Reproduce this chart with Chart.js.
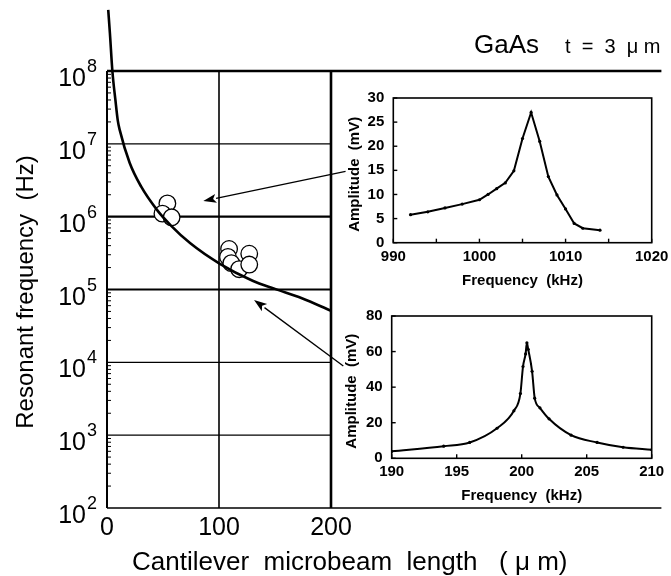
<!DOCTYPE html>
<html><head><meta charset="utf-8">
<script src="https://cdn.jsdelivr.net/npm/chart.js@4.4.0/dist/chart.umd.min.js"></script>
<style>
html,body{margin:0;padding:0;background:#fff;}
#wrap{position:relative;width:671px;height:576px;overflow:hidden;background:#fff;}
canvas{position:absolute;}
</style></head><body>
<div id="wrap">
<canvas id="main" width="671" height="576" style="left:0;top:0"></canvas>
<canvas id="ins1" width="345" height="215" style="left:340px;top:80px"></canvas>
<canvas id="ins2" width="345" height="215" style="left:340px;top:298px"></canvas>
</div>
<script>
// ---------- main chart data ----------
const curveLength = [1.1, 2.6, 4.8, 7.5, 9.6, 11.4, 20.2, 30.4, 44.8, 56.9, 74.4, 100.8, 130, 150, 174, 200];
const curveFreq   = [6.9e8, 3.3e8, 1.0e8, 4.0e7, 2.1e7, 1.54e7, 5.5e6, 2.6e6, 1.23e6, 7.6e5, 4.3e5, 2.25e5, 1.32e5, 1.02e5, 7.6e4, 5.1e4];
const measLength  = [53.9, 49.5, 57.7, 109, 127, 108, 111, 118, 127];
const measFreq    = [1.52e6, 1.1e6, 9.8e5, 3.6e5, 3.1e5, 2.8e5, 2.3e5, 1.9e5, 2.2e5];
const yDecades    = [2, 3, 4, 5, 6, 7, 8];
const xTickValues = [0, 100, 200];
// ---------- inset data ----------
const ins1Freq = [992, 994, 996, 998, 1000, 1001, 1002, 1003, 1004, 1005, 1006, 1007, 1008, 1009, 1010, 1011, 1012, 1014];
const ins1Amp  = [5.8, 6.4, 7.2, 8.0, 8.9, 10.0, 11.2, 12.4, 14.9, 21.6, 27.0, 21.0, 13.7, 9.9, 7.0, 4.0, 3.0, 2.6];
const ins2Freq = [190, 194, 196, 198.1, 199.4, 199.9, 200.1, 200.3, 200.4, 200.5, 200.8, 201, 201.4, 202.1, 203.8, 205.8, 207.8, 210];
const ins2Amp  = [3.9, 6.8, 8.9, 16.9, 26.7, 36.4, 51.6, 58.7, 64.9, 61.3, 48.9, 33.8, 28.4, 22.2, 13.0, 8.9, 6.2, 4.8];
// arrows (data coordinates of main chart)
const arrowTails = [[213, 4.2e6], [211, 8.9e3]];
const arrowTips  = [[86, 1.64e6], [131.3, 7.2e4]];

const FONT = '"Liberation Sans", Arial, Helvetica, sans-serif';

function seg(ctx, x1, y1, x2, y2, w) {
  ctx.lineWidth = w; ctx.beginPath(); ctx.moveTo(x1, y1); ctx.lineTo(x2, y2); ctx.stroke();
}

const mainDeco = {
  id: 'mainDeco',
  beforeDatasetsDraw(chart) {
    const {ctx, scales: {x, y}, chartArea: a} = chart;
    ctx.save();
    ctx.strokeStyle = '#000';
    const x0 = x.getPixelForValue(0), x1 = x.getPixelForValue(100), x2 = x.getPixelForValue(200);
    yDecades.forEach(d => {
      const py = y.getPixelForValue(Math.pow(10, d));
      if (d === 8) seg(ctx, x0, py, a.right, py, 2.5);
      else if (d === 2) seg(ctx, x0, py, a.right, py, 1.5);
      else seg(ctx, x0, py, x2, py, (d === 5 || d === 6) ? 2.2 : 1.3);
    });
    const yt = y.getPixelForValue(1e8), yb = y.getPixelForValue(1e2);
    seg(ctx, x0, yt, x0, yb, 2);
    seg(ctx, x1, yt, x1, yb, 1.6);
    seg(ctx, x2, yt, x2, yb, 2.6);
    for (let d = 2; d < 8; d++) {
      for (let k = 2; k <= 9; k++) {
        const py = y.getPixelForValue(k * Math.pow(10, d));
        seg(ctx, x0, py, x0 + 4, py, 1);
      }
    }
    ctx.restore();
  },
  afterDraw(chart) {
    const {ctx, scales: {x, y}} = chart;
    ctx.save();
    ctx.fillStyle = '#000'; ctx.strokeStyle = '#000';
    yDecades.forEach(d => {
      const py = y.getPixelForValue(Math.pow(10, d));
      ctx.font = '25px ' + FONT; ctx.textAlign = 'right'; ctx.textBaseline = 'alphabetic';
      ctx.fillText('10', 86, py + 15);
      ctx.font = '18px ' + FONT; ctx.textAlign = 'left';
      ctx.fillText(String(d), 87, py + 1);
    });
    ctx.font = '25px ' + FONT; ctx.textAlign = 'center';
    xTickValues.forEach(v => ctx.fillText(String(v), x.getPixelForValue(v), 535));
    ctx.font = '26px ' + FONT; ctx.textAlign = 'left';
    ctx.fillText('Cantilever  microbeam  length   ( \u03bc m)', 132, 570);
    ctx.save();
    ctx.translate(33, 292); ctx.rotate(-Math.PI / 2);
    ctx.font = '24px ' + FONT; ctx.textAlign = 'center';
    ctx.fillText('Resonant frequency  (Hz)', 0, 0);
    ctx.restore();
    ctx.font = '26px ' + FONT; ctx.textAlign = 'left';
    ctx.fillText('GaAs', 474, 53);
    ctx.font = '20px ' + FONT;
    ctx.fillText('t  =  3  \u03bc m', 565, 53);
    arrowTails.forEach((t, i) => {
      const tx = x.getPixelForValue(t[0]), ty = y.getPixelForValue(t[1]);
      const hx = x.getPixelForValue(arrowTips[i][0]), hy = y.getPixelForValue(arrowTips[i][1]);
      const ang = Math.atan2(hy - ty, hx - tx);
      const L = 13, W = 4.5;
      const bx = hx - L * Math.cos(ang), by = hy - L * Math.sin(ang);
      seg(ctx, tx, ty, bx, by, 1.3);
      ctx.beginPath();
      ctx.moveTo(hx, hy);
      ctx.lineTo(bx + W * Math.sin(ang), by - W * Math.cos(ang));
      ctx.lineTo(hx - (L - 3) * Math.cos(ang), hy - (L - 3) * Math.sin(ang));
      ctx.lineTo(bx - W * Math.sin(ang), by + W * Math.cos(ang));
      ctx.closePath(); ctx.fill();
    });
    ctx.restore();
  }
};

new Chart(document.getElementById('main'), {
  type: 'scatter',
  data: {
    datasets: [
      {
        data: curveLength.map((v, i) => ({x: v, y: curveFreq[i]})),
        showLine: true, borderColor: '#000', borderWidth: 2.6, pointRadius: 0,
        cubicInterpolationMode: 'monotone', clip: false
      },
      {
        data: measLength.map((v, i) => ({x: v, y: measFreq[i]})),
        showLine: false, pointRadius: 8.3, pointBackgroundColor: '#fff',
        pointBorderColor: '#000', pointBorderWidth: 1.3, clip: false
      }
    ]
  },
  options: {
    responsive: false, animation: false, devicePixelRatio: 1,
    layout: {padding: {top: 71, right: 0, bottom: 0, left: 0}},
    plugins: {legend: {display: false}, tooltip: {enabled: false}},
    scales: {
      x: {
        type: 'linear', min: 0, max: 495,
        grid: {display: false}, border: {display: false}, ticks: {display: false},
        afterFit: s => { s.height = 68; }
      },
      y: {
        type: 'logarithmic', min: 1e2, max: 1e8,
        grid: {display: false}, border: {display: false}, ticks: {display: false},
        afterFit: s => { s.width = 107; }
      }
    }
  },
  plugins: [mainDeco]
});

// ---------- insets ----------
function insetDeco(xMinorStep, yTitleDx) {
  return {
    id: 'insetDeco',
    afterDraw(chart) {
      const {ctx, scales: {x, y}, chartArea: a} = chart;
      ctx.save();
      ctx.strokeStyle = '#000'; ctx.fillStyle = '#000';
      ctx.lineWidth = 1.6;
      ctx.strokeRect(a.left, a.top, a.right - a.left, a.bottom - a.top);
      for (let v = x.min; v <= x.max + 1e-9; v += xMinorStep) {
        const px = x.getPixelForValue(v);
        seg(ctx, px, a.bottom, px, a.bottom - 4, 1.4);
      }
      y.ticks.forEach(t => {
        const py = y.getPixelForValue(t.value);
        seg(ctx, a.left, py, a.left + 4, py, 1.4);
      });
      ctx.font = 'bold 15px ' + FONT; ctx.textAlign = 'center'; ctx.textBaseline = 'middle';
      ctx.fillText('Frequency  (kHz)', (a.left + a.right) / 2, a.bottom + 38);
      ctx.save();
      ctx.translate(a.left - yTitleDx, (a.top + a.bottom) / 2 + 4);
      ctx.rotate(-Math.PI / 2);
      ctx.fillText('Amplitude  (mV)', 0, 0);
      ctx.restore();
      ctx.restore();
    }
  };
}

function makeInset(id, fx, fy, xmin, xmax, xstep, ymax, ystep, yw, xh, smooth, minor, ytdx) {
  new Chart(document.getElementById(id), {
    type: 'scatter',
    data: {datasets: [{
      data: fx.map((v, i) => ({x: v, y: fy[i]})),
      showLine: true, borderColor: '#000', borderWidth: 2,
      pointRadius: 1.6, pointBackgroundColor: '#000', pointBorderWidth: 0,
      cubicInterpolationMode: smooth ? 'monotone' : 'default', tension: 0
    }]},
    options: {
      responsive: false, animation: false, devicePixelRatio: 1,
      layout: {padding: {top: 10, right: 33.3, bottom: 0, left: 0}},
      plugins: {legend: {display: false}, tooltip: {enabled: false}},
      scales: {
        x: {
          type: 'linear', min: xmin, max: xmax,
          grid: {display: false, drawTicks: false}, border: {display: false},
          ticks: {stepSize: xstep, color: '#000', padding: 5, maxRotation: 0,
                  callback: v => String(v),
                  font: {family: FONT, size: 15, weight: 'bold'}},
          afterFit: s => { s.height = xh; }
        },
        y: {
          type: 'linear', min: 0, max: ymax,
          grid: {display: false, drawTicks: false}, border: {display: false},
          ticks: {stepSize: ystep, color: '#000', padding: 9,
                  callback: v => String(v),
                  font: {family: FONT, size: 15, weight: 'bold'}},
          afterFit: s => { s.width = yw; }
        }
      }
    },
    plugins: [insetDeco(minor, ytdx)]
  });
}

makeInset('ins1', ins1Freq, ins1Amp, 990, 1020, 10, 30, 5, 53.3, 52.3, false, 5, 38);
makeInset('ins2', ins2Freq, ins2Amp, 190, 210, 5, 80, 20, 51.7, 54.7, true, 5, 40);
</script>
</body></html>
